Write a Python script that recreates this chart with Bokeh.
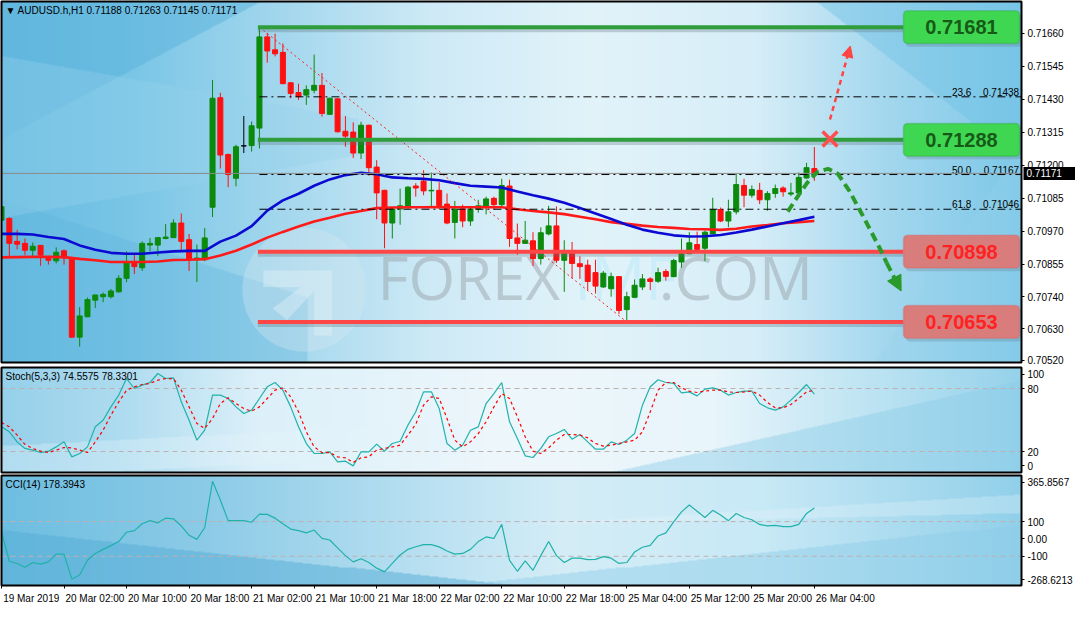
import numpy as np
from bokeh.plotting import figure
from bokeh.layouts import column
from bokeh.models import (Range1d, FixedTicker, Label, Arrow, NormalHead, LinearAxis,
                          BoxAnnotation, ColumnDataSource, PrintfTickFormatter)
from bokeh.embed import file_html
from bokeh.resources import INLINE
from bokeh.core.properties import value

# ---------------- data ----------------
header_text = "\u25bc  AUDUSD.h,H1  0.71188 0.71263 0.71145 0.71171"
time_labels = ["19 Mar 2019", "20 Mar 02:00", "20 Mar 10:00", "20 Mar 18:00",
               "21 Mar 02:00", "21 Mar 10:00", "21 Mar 18:00", "22 Mar 02:00",
               "22 Mar 10:00", "22 Mar 18:00", "25 Mar 04:00", "25 Mar 12:00",
               "25 Mar 20:00", "26 Mar 04:00"]
time_tick_bars = [0, 8, 16, 24, 32, 40, 48, 56, 64, 72, 80, 88, 96, 104]

open_ = [0.71008, 0.71014, 0.70934, 0.70927, 0.70903, 0.70920, 0.70874, 0.70866, 0.70901, 0.70876,
         0.70600, 0.70671, 0.70729, 0.70741, 0.70741, 0.70758, 0.70805, 0.70859, 0.70842, 0.70921,
         0.70921, 0.70944, 0.70947, 0.70998, 0.70940, 0.70870, 0.70870, 0.71053, 0.71435, 0.71237,
         0.71154, 0.71267, 0.71268, 0.71329, 0.71647, 0.71602, 0.71593, 0.71487, 0.71453, 0.71444,
         0.71461, 0.71478, 0.71377, 0.71431, 0.71318, 0.71315, 0.71242, 0.71339, 0.71193, 0.71112,
         0.70998, 0.71047, 0.71054, 0.71127, 0.71144, 0.71110, 0.71112, 0.71064, 0.71000, 0.71047,
         0.71005, 0.71047, 0.71053, 0.71084, 0.71062, 0.71127, 0.70946, 0.70927, 0.70936, 0.70874,
         0.70960, 0.70988, 0.70868, 0.70899, 0.70856, 0.70851, 0.70825, 0.70775, 0.70769, 0.70811,
         0.70696, 0.70739, 0.70775, 0.70803, 0.70795, 0.70829, 0.70811, 0.70862, 0.70891, 0.70923,
         0.70910, 0.70960, 0.71045, 0.71005, 0.71037, 0.71129, 0.71095, 0.71112, 0.71079, 0.71101,
         0.71120, 0.71099, 0.71103, 0.71155, 0.71188]
high = [0.71062, 0.71018, 0.70974, 0.70944, 0.70930, 0.70921, 0.70884, 0.70913, 0.70906, 0.70878,
        0.70705, 0.70738, 0.70748, 0.70756, 0.70768, 0.70816, 0.70899, 0.70887, 0.70934, 0.70946,
        0.70948, 0.70994, 0.71011, 0.71031, 0.70960, 0.70923, 0.70981, 0.71497, 0.71452, 0.71240,
        0.71271, 0.71371, 0.71352, 0.71681, 0.71661, 0.71658, 0.71624, 0.71489, 0.71484, 0.71478,
        0.71585, 0.71521, 0.71435, 0.71433, 0.71371, 0.71349, 0.71351, 0.71341, 0.71217, 0.71114,
        0.71049, 0.71118, 0.71127, 0.71137, 0.71182, 0.71174, 0.71140, 0.71101, 0.71075, 0.71062,
        0.71052, 0.71079, 0.71090, 0.71090, 0.71152, 0.71149, 0.70996, 0.71005, 0.70966, 0.70983,
        0.71058, 0.71056, 0.70938, 0.70932, 0.70882, 0.70870, 0.70870, 0.70831, 0.70825, 0.70813,
        0.70758, 0.70801, 0.70820, 0.70809, 0.70842, 0.70837, 0.70873, 0.70944, 0.70966, 0.70968,
        0.70972, 0.71086, 0.71052, 0.71079, 0.71169, 0.71152, 0.71129, 0.71138, 0.71109, 0.71132,
        0.71126, 0.71138, 0.71174, 0.71208, 0.71263]
low = [0.70994, 0.70876, 0.70906, 0.70886, 0.70876, 0.70849, 0.70853, 0.70857, 0.70853, 0.70597,
       0.70567, 0.70670, 0.70702, 0.70722, 0.70735, 0.70755, 0.70792, 0.70820, 0.70831, 0.70899,
       0.70883, 0.70941, 0.70946, 0.70904, 0.70831, 0.70792, 0.70865, 0.71019, 0.71188, 0.71123,
       0.71126, 0.71242, 0.71247, 0.71258, 0.71557, 0.71579, 0.71482, 0.71433, 0.71427, 0.71410,
       0.71450, 0.71369, 0.71375, 0.71314, 0.71264, 0.71225, 0.71221, 0.71163, 0.71011, 0.70910,
       0.70944, 0.70992, 0.71047, 0.71090, 0.71095, 0.71054, 0.71047, 0.70994, 0.70944, 0.70983,
       0.70988, 0.71034, 0.71028, 0.71045, 0.71050, 0.70915, 0.70887, 0.70925, 0.70848, 0.70853,
       0.70955, 0.70859, 0.70758, 0.70805, 0.70803, 0.70764, 0.70752, 0.70771, 0.70741, 0.70681,
       0.70653, 0.70736, 0.70764, 0.70764, 0.70789, 0.70797, 0.70809, 0.70842, 0.70889, 0.70903,
       0.70865, 0.70958, 0.71001, 0.70983, 0.71028, 0.71053, 0.71086, 0.71064, 0.71041, 0.71086,
       0.71090, 0.71092, 0.71095, 0.71152, 0.71145]
close = [0.71055, 0.70927, 0.70924, 0.70903, 0.70917, 0.70886, 0.70868, 0.70896, 0.70876, 0.70600,
         0.70674, 0.70731, 0.70747, 0.70749, 0.70761, 0.70805, 0.70859, 0.70846, 0.70927, 0.70927,
         0.70947, 0.70949, 0.70998, 0.70934, 0.70873, 0.70876, 0.70946, 0.71433, 0.71235, 0.71167,
         0.71264, 0.71267, 0.71337, 0.71647, 0.71598, 0.71588, 0.71484, 0.71450, 0.71439, 0.71463,
         0.71478, 0.71380, 0.71433, 0.71316, 0.71301, 0.71242, 0.71339, 0.71191, 0.71103, 0.70998,
         0.71047, 0.71058, 0.71123, 0.71120, 0.71110, 0.71112, 0.71059, 0.70998, 0.71047, 0.71005,
         0.71047, 0.71058, 0.71082, 0.71062, 0.71129, 0.70944, 0.70927, 0.70938, 0.70874, 0.70964,
         0.70988, 0.70868, 0.70899, 0.70857, 0.70846, 0.70794, 0.70778, 0.70823, 0.70811, 0.70693,
         0.70741, 0.70781, 0.70803, 0.70794, 0.70825, 0.70812, 0.70867, 0.70891, 0.70929, 0.70906,
         0.70966, 0.71045, 0.71005, 0.71037, 0.71132, 0.71095, 0.71115, 0.71079, 0.71101, 0.71118,
         0.71107, 0.71103, 0.71157, 0.71191, 0.71171]

ma_bars = list(range(0, 105, 2))
ma_fast = [0.70960, 0.70960, 0.70958, 0.70949, 0.70942, 0.70920, 0.70905, 0.70894, 0.70891, 0.70891,
           0.70895, 0.70899, 0.70901, 0.70901, 0.70933, 0.70954, 0.70987, 0.71041, 0.71077, 0.71100,
           0.71128, 0.71150, 0.71165, 0.71173, 0.71168, 0.71157, 0.71154, 0.71152, 0.71147, 0.71137,
           0.71128, 0.71125, 0.71122, 0.71108, 0.71095, 0.71083, 0.71069, 0.71050, 0.71031, 0.71012,
           0.70992, 0.70975, 0.70964, 0.70955, 0.70951, 0.70952, 0.70956, 0.70965, 0.70975, 0.70986,
           0.70997, 0.71008, 0.71020]
ma_slow = [0.70878, 0.70879, 0.70880, 0.70880, 0.70879, 0.70873, 0.70868, 0.70862, 0.70862, 0.70862,
           0.70864, 0.70869, 0.70870, 0.70872, 0.70885, 0.70901, 0.70923, 0.70947, 0.70967, 0.70986,
           0.71003, 0.71016, 0.71030, 0.71040, 0.71050, 0.71052, 0.71053, 0.71053, 0.71054, 0.71053,
           0.71053, 0.71053, 0.71053, 0.71046, 0.71040, 0.71035, 0.71029, 0.71020, 0.71011, 0.71001,
           0.70995, 0.70989, 0.70984, 0.70981, 0.70977, 0.70976, 0.70974, 0.70978, 0.70986, 0.70991,
           0.70997, 0.71001, 0.71005]

stoch_k = [43.5, 38.7, 29.2, 22.9, 21.3, 19.0, 20.3, 24.4, 29.2, 14.9,
           18.1, 24.4, 43.5, 49.8, 62.5, 73.7, 89.5, 80.0, 83.2, 85.7,
           94.3, 89.5, 90.2, 67.3, 49.8, 30.8, 40.3, 73.7, 73.7, 70.5,
           62.5, 56.2, 59.4, 70.5, 81.6, 85.7, 78.4, 62.5, 43.5, 27.6,
           18.1, 18.1, 19.7, 10.2, 10.8, 6.3, 19.7, 19.7, 27.0, 20.3,
           27.6, 29.8, 45.1, 57.8, 76.8, 76.8, 61.0, 27.6, 21.3, 26.0,
           40.3, 43.5, 65.7, 75.2, 85.7, 48.3, 32.4, 15.9, 14.3, 22.9,
           34.0, 37.1, 41.0, 31.7, 36.2, 29.2, 22.2, 22.2, 29.2, 26.7,
           30.8, 37.1, 64.1, 81.6, 88.3, 85.7, 84.8, 75.9, 76.8, 73.0,
           79.4, 80.6, 78.4, 73.7, 76.2, 77.5, 77.5, 65.7, 61.6, 59.4,
           62.5, 68.9, 76.2, 83.8, 74.56]
stoch_d = [47.6, 43.5, 35.6, 26.7, 22.9, 20.3, 19.0, 21.3, 23.8, 23.5,
           21.3, 19.0, 29.2, 40.3, 54.6, 67.3, 78.4, 81.6, 83.8, 84.8,
           87.9, 89.5, 89.5, 78.4, 62.5, 46.7, 41.9, 51.4, 65.7, 71.1,
           65.7, 61.0, 58.4, 62.5, 70.5, 78.4, 80.6, 72.1, 57.8, 38.7,
           24.4, 19.0, 19.0, 14.9, 14.0, 9.5, 14.0, 14.9, 21.3, 22.9,
           24.4, 26.0, 35.6, 46.0, 64.1, 72.1, 70.5, 51.4, 30.8, 24.4,
           29.2, 37.1, 48.3, 62.5, 75.2, 70.5, 53.0, 34.0, 20.3, 18.1,
           23.5, 30.8, 36.2, 36.2, 35.6, 33.0, 27.6, 25.1, 26.0, 27.6,
           29.2, 30.8, 38.7, 57.8, 78.4, 85.7, 85.7, 80.6, 77.5, 76.2,
           77.5, 78.4, 78.4, 76.8, 76.2, 76.8, 77.5, 73.7, 66.7, 61.6,
           61.6, 64.8, 70.5, 76.8, 78.33]
cci = [38.7, -128.9, -141.5, -163.1, -136.1, -145.1, -132.5, -87.4, -87.4, -231.6,
       -208.1, -123.4, -83.8, -60.4, -38.8, -15.3, 38.7, 47.7, 87.4, 105.4,
       92.8, 119.8, 116.2, 74.8, 20.7, -2.7, 65.8, 332.5, 224.3, 105.4,
       105.4, 105.4, 96.4, 143.2, 141.4, 119.8, 87.4, 56.8, 47.7, 35.1,
       51.3, 2.7, -6.3, -51.4, -96.4, -132.5, -114.4, -136.1, -168.5, -190.1,
       -141.5, -92.8, -60.0, -45.0, -33.3, -33.3, -46.0, -69.4, -87.4, -83.8,
       -60.4, -15.3, 11.7, 2.7, 83.8, -123.4, -186.5, -127.1, -181.1, -96.4,
       -15.3, -96.4, -136.1, -110.8, -110.8, -119.8, -118.0, -101.8, -110.8, -141.5,
       -136.1, -74.8, -47.8, -37.0, 17.1, 35.1, 98.2, 155.9, 195.5, 159.5,
       123.4, 164.9, 137.8, 105.4, 146.9, 123.4, 110.8, 83.8, 74.8, 78.4,
       71.2, 71.2, 83.8, 146.9, 178.39]

price_ticks = [0.70520, 0.70630, 0.70740, 0.70855, 0.70970, 0.71085,
               0.71200, 0.71315, 0.71430, 0.71545, 0.71660]
resist_levels = [0.71681, 0.71288]
support_levels = [0.70898, 0.70653]
level_labels_res = ["0.71681", "0.71288"]
level_labels_sup = ["0.70898", "0.70653"]
fib_pcts = ["23.6", "50.0", "61.8"]
fib_prices = [0.71438, 0.71167, 0.71046]
fib_price_text = ["0.71438", "0.71167", "0.71046"]
fib_anchor_bars = [33, 80]
fib_anchor_prices = [0.71681, 0.70653]
last_price = 0.71171
last_price_text = "0.71171"
stoch_title = "Stoch(5,3,3) 74.5575 78.3301"
cci_title = "CCI(14) 178.3943"
cci_min, cci_max = -268.6213, 365.8567

n = len(close)
assert len(open_) == n and len(high) == n and len(low) == n
assert len(stoch_k) == n and len(stoch_d) == n and len(cci) == n
assert len(ma_fast) == len(ma_bars) == len(ma_slow)

# ---------------- layout ----------------
W = 1075
FRAME_W = W - 1            # full frame (chart area + price-scale strip)
CHART_W = 1020             # chart area width in px
FONT = "Liberation Sans"
X0, X1 = 0.0, 130.5        # chart area in bar units
XE = X1 * FRAME_W / CHART_W
P0, P1 = 0.705116, 0.717704
MAIN_CHART_H = 361
EXT = 4 * (P1 - P0) / MAIN_CHART_H      # white strip under the chart for the lowest label
PX_BAR = CHART_W / X1
xr = Range1d(X0, XE)


def bg_image(nx, ny, stops, cols, facets):
    u = np.repeat(np.linspace(0, 1, nx)[None, :], ny, 0)
    v = np.repeat(np.linspace(0, 1, ny)[:, None], nx, 1)
    cols = np.array(cols, float)
    rgb = np.stack([np.interp(u, stops, cols[:, k]) for k in range(3)], axis=-1)
    for fn, col, a in facets:
        m = fn(u, v)
        rgb[m] = rgb[m] * (1 - a) + np.array(col, float) * a
    rgb = rgb[::-1]
    img = np.zeros((ny, nx), dtype=np.uint32)
    view = img.view(dtype=np.uint8).reshape((ny, nx, 4))
    view[..., :3] = np.clip(rgb, 0, 255).astype(np.uint8)
    view[..., 3] = 255
    return img


def make_fig(height, yr, top, bottom, xloc=None):
    p = figure(width=W, height=height, x_range=xr, y_range=yr,
               output_backend="svg", toolbar_location=None,
               x_axis_location=xloc, y_axis_location=None,
               min_border_left=1, min_border_right=0,
               min_border_top=top, min_border_bottom=bottom)
    p.grid.visible = False
    p.outline_line_color = None
    p.border_fill_color = "white"
    p.background_fill_color = "white"
    return p


def price_scale(p, ticks, overrides=None, formatter=None):
    ax = LinearAxis(fixed_location=X1, ticker=FixedTicker(ticks=ticks))
    if overrides:
        ax.major_label_overrides = overrides
    if formatter is not None:
        ax.formatter = formatter
    ax.major_label_text_font = FONT
    ax.major_label_text_font_size = "10px"
    ax.major_label_text_color = "black"
    ax.major_tick_out = 3
    ax.major_tick_in = 0
    ax.minor_tick_out = 0
    ax.minor_tick_in = 0
    ax.axis_line_color = None
    ax.major_tick_line_color = "black"
    ax.major_label_standoff = 3
    p.add_layout(ax, "right")


def frame_box(p, b, t):
    p.quad(left=[X0], right=[X1], bottom=[b], top=[t], fill_color=None,
           line_color="black", line_width=2, level="overlay")


# ======== main price panel ========
p1 = make_fig(366, Range1d(P0 - EXT, P1), 1, 0)
img1 = bg_image(CHART_W, MAIN_CHART_H,
                [0, 0.12, 0.28, 0.42, 0.58, 0.74, 0.87, 1],
                [(104, 188, 225), (120, 197, 230), (165, 216, 238), (206, 234, 246),
                 (226, 243, 250), (214, 238, 248), (163, 215, 238), (125, 200, 232)],
                [(lambda u, v: v < 0.38 - 1.5 * u, (90, 178, 220), 0.5),
                 (lambda u, v: (v > 0.55 + 0.9 * u) & (u < 0.3), (95, 180, 221), 0.35),
                 (lambda u, v: (v < 0.6 - 0.5 * u) & (v > 0.15 + 0.5 * u) & (u < 0.35), (150, 210, 236), 0.35),
                 (lambda u, v: v < 2.2 * (u - 0.8), (112, 194, 230), 0.45),
                 (lambda u, v: v > 4.6 - 4.2 * u, (150, 210, 235), 0.3)])
p1.image_rgba(image=[img1], x=X0, y=P0, dw=X1 - X0, dh=P1 - P0, level="image")

# watermark logo and text
p1.scatter(x=[38.75], y=[0.70765], size=124, marker="circle",
           fill_color="#d6e8f0", fill_alpha=0.35, line_color=None, level="underlay")
logo_x = [33.5, 42.3, 42.3, 40.0, 40.0, 36.5, 34.7, 38.3, 33.5]
logo_y = [0.70832, 0.70832, 0.70606, 0.70606, 0.70760, 0.70660, 0.70700, 0.70775, 0.70775]
p1.patch(logo_x, logo_y, fill_color="#eef6fa", fill_alpha=0.35, line_color=None, level="underlay")
p1.text(x=[48.1], y=[0.70667], text=["FOREX"], text_font=value("Open Sans"),
        text_font_size="60px", text_color="#9aa4aa", text_alpha=0.5, level="underlay")
p1.text(x=[73.3], y=[0.70667], text=["IMF"], text_font=value("Open Sans"),
        text_font_size="60px", text_color="#c4ebf8", text_alpha=0.75, level="underlay")
p1.text(x=[84.1], y=[0.70667], text=[".COM"], text_font=value("Open Sans"),
        text_font_size="60px", text_color="#9aa4aa", text_alpha=0.5, level="underlay")

# candles
xs = list(range(n))
cols = ["#0b8a0b" if c > o else ("#ff1010" if c < o else "black") for o, c in zip(open_, close)]
src = ColumnDataSource(dict(x=xs, o=open_, h=high, l=low, c=close,
                            top=[max(o, c) for o, c in zip(open_, close)],
                            bot=[min(o, c) for o, c in zip(open_, close)], col=cols))
p1.segment(x0="x", y0="l", x1="x", y1="h", line_color="col", line_width=1, source=src)
p1.vbar(x="x", width=0.64, top="top", bottom="bot", fill_color="col",
        line_color="col", line_width=1, source=src)

# moving averages
p1.line(ma_bars, ma_slow, line_color="#ff1a1a", line_width=2.6)
p1.line(ma_bars, ma_fast, line_color="#0a0ad2", line_width=2.6)

# fibonacci
p1.line(fib_anchor_bars, fib_anchor_prices, line_color="#ff2020", line_width=1, line_dash="2 3")
p1.segment(x0=[33] * 3, y0=fib_prices, x1=[X1] * 3, y1=fib_prices,
           line_color="black", line_width=1, line_dash="8 4 2 4")
p1.text(x=[121.6] * 3, y=fib_prices, text=fib_pcts, text_font=value(FONT),
        text_font_size="10px", text_color="black", text_baseline="bottom", y_offset=-1)
p1.text(x=[130.2] * 3, y=fib_prices, text=fib_price_text, text_font=value(FONT),
        text_font_size="10px", text_color="black", text_baseline="bottom",
        text_align="right", y_offset=-1)

# current price line
p1.segment(x0=[X0], y0=[last_price], x1=[X1], y1=[last_price], line_color="#8a8a8a", line_width=1)

# support / resistance lines + boxes
BL, BR, BH = 115.4, 130.25, 0.00057
SH = 0.00011
for lvls, lc, fc, bc, tc, labels in [
        (resist_levels, "#2f9d3c", "#3fd652", "#2a9a38", "#175a17", level_labels_res),
        (support_levels, "#ff4646", "#d87c7c", "#e45a5a", "#ff2222", level_labels_sup)]:
    p1.segment(x0=[32.8] * 2, y0=[v - SH for v in lvls], x1=[BL] * 2, y1=[v - SH for v in lvls],
               line_color="#5c6f78", line_alpha=0.3, line_width=4)
    p1.segment(x0=[32.8] * 2, y0=lvls, x1=[BL] * 2, y1=lvls, line_color=lc, line_width=4)
    for v, t in zip(lvls, labels):
        p1.add_layout(BoxAnnotation(left=BL + 0.3, right=BR + 0.3, bottom=v - BH - SH, top=v + BH - SH,
                                    fill_color="#5c6f78", fill_alpha=0.25, line_color=None,
                                    border_radius=4))
        p1.add_layout(BoxAnnotation(left=BL, right=BR, bottom=v - BH, top=v + BH,
                                    fill_color=fc, fill_alpha=1.0, line_color=bc, line_width=1.5,
                                    border_radius=4))
    p1.text(x=[(BL + BR) / 2] * 2, y=lvls, text=labels, text_font=value(FONT),
            text_font_style="bold", text_font_size="20px", text_color=tc,
            text_align="center", text_baseline="middle", level="overlay")

# projection arrows
p1.scatter(x=[106.0], y=[0.71291], marker="x", size=21, line_width=3.5,
           line_color="#ff4e4e", level="overlay")
p1.add_layout(Arrow(x_start=106.0, y_start=0.71359, x_end=108.6, y_end=0.71615,
                    line_color="#ff4444", line_width=2.5, line_dash="5 4",
                    end=NormalHead(size=11, fill_color="#ff4444", line_color="#ff4444")))
curve_x = [100.6, 101.9, 103.1, 104.4, 105.75, 107.0, 108.5, 110.5, 112.5, 113.25]
curve_y = [0.71038, 0.71092, 0.71139, 0.71176, 0.71187, 0.71170, 0.71109, 0.71008, 0.70903, 0.70859]
p1.line(curve_x, curve_y, line_color="#2a9a2a", line_width=4, line_dash="9 5", level="overlay")
p1.add_layout(Arrow(x_start=113.25, y_start=0.70859, x_end=115.1, y_end=0.70761,
                    line_color="#2a9a2a", line_width=4, line_dash="9 5",
                    end=NormalHead(size=15, fill_color="#2a9a2a", line_color="#2a9a2a")))

# header
p1.add_layout(Label(x=X0, y=P1, x_offset=4, y_offset=-3, text=header_text,
                    text_font=FONT, text_font_size="10px", text_color="black",
                    text_baseline="top"))

# price scale with current price tag
price_scale(p1, price_ticks, formatter=PrintfTickFormatter(format="%.5f"))
tag_h = 6.5 * (P1 - P0) / MAIN_CHART_H
p1.quad(left=[X1 + 2 / PX_BAR], right=[XE], bottom=[last_price - tag_h], top=[last_price + tag_h],
        fill_color="black", line_color=None, level="overlay")
p1.text(x=[X1 + 5 / PX_BAR], y=[last_price], text=[last_price_text], text_font=value(FONT),
        text_font_size="10px", text_color="white", text_baseline="middle", level="overlay")
frame_box(p1, P0, P1)

# ======== stochastic panel ========
p2 = make_fig(108, Range1d(0, 100), 1, 2)
img2 = bg_image(CHART_W, 105,
                [0, 0.12, 0.25, 0.5, 0.7, 0.85, 1],
                [(150, 208, 234), (175, 220, 240), (220, 240, 249), (238, 247, 252),
                 (232, 245, 251), (190, 228, 243), (150, 210, 235)],
                [(lambda u, v: v > 1 - (u - 0.6) * 2.2, (140, 205, 232), 0.45),
                 (lambda u, v: (v > 0.75 - 0.5 * u) & (v < 1.05 - 0.5 * u) & (u < 0.45), (228, 244, 251), 0.35)])
p2.image_rgba(image=[img2], x=X0, y=0, dw=X1 - X0, dh=100, level="image")
p2.segment(x0=[X0] * 2, y0=[20, 80], x1=[X1] * 2, y1=[20, 80], line_color="#bfb0b0",
           line_width=1, line_dash="5 4")
p2.line(xs, stoch_k, line_color="#20b2aa", line_width=1.2)
p2.line(xs, stoch_d, line_color="#ff0000", line_width=1.2, line_dash="3 3")
p2.add_layout(Label(x=X0, y=100, x_offset=4, y_offset=-3, text=stoch_title,
                    text_font=FONT, text_font_size="10px", text_color="black",
                    text_baseline="top"))
price_scale(p2, [6.5, 20, 80, 93.5], overrides={6.5: "0", 20: "20", 80: "80", 93.5: "100"})
frame_box(p2, 0, 100)

# ======== CCI panel ========
p3 = make_fig(132, Range1d(cci_min, cci_max), 1, 18, xloc="below")
label_pos = [b + (3.8 if i == 0 else 3.95) for i, b in enumerate(time_tick_bars)]
xa = p3.xaxis[0]
xa.ticker = FixedTicker(ticks=label_pos, minor_ticks=time_tick_bars)
xa.major_label_overrides = {pos: t for pos, t in zip(label_pos, time_labels)}
xa.major_label_text_font = FONT
xa.major_label_text_font_size = "10px"
xa.major_label_text_color = "black"
xa.major_tick_out = 0
xa.major_tick_in = 0
xa.minor_tick_out = 3
xa.minor_tick_in = 0
xa.minor_tick_line_color = "black"
xa.axis_line_color = None
xa.major_label_standoff = 4

img3 = bg_image(CHART_W, 113,
                [0, 0.2, 0.4, 0.55, 0.75, 1],
                [(110, 190, 225), (140, 203, 231), (182, 223, 241), (212, 237, 247),
                 (200, 233, 246), (145, 208, 234)],
                [(lambda u, v: v > 0.5 + u, (85, 172, 214), 0.5),
                 (lambda u, v: v > 1.45 - 1.0 * u, (140, 204, 232), 0.45),
                 (lambda u, v: (v < 0.45 - 0.22 * (u - 0.5)) & (v > 0.45 - 0.55 * (u - 0.5)),
                  (232, 245, 251), 0.3)])
p3.image_rgba(image=[img3], x=X0, y=cci_min, dw=X1 - X0, dh=cci_max - cci_min, level="image")
p3.segment(x0=[X0] * 2, y0=[100, -100], x1=[X1] * 2, y1=[100, -100], line_color="#bfb0b0",
           line_width=1, line_dash="5 4")
p3.line(xs, cci, line_color="#20b2aa", line_width=1.2)
p3.add_layout(Label(x=X0, y=cci_max, x_offset=4, y_offset=-3, text=cci_title,
                    text_font=FONT, text_font_size="10px", text_color="black",
                    text_baseline="top"))
price_scale(p3, [-236, -100, 0, 100, 327],
            overrides={-236: "-268.6213", -100: "-100", 0: "0.00", 100: "100", 327: "365.8567"})
frame_box(p3, cci_min, cci_max)

layout = column(p1, p2, p3)
open("out.html", "w").write(file_html(layout, INLINE))
